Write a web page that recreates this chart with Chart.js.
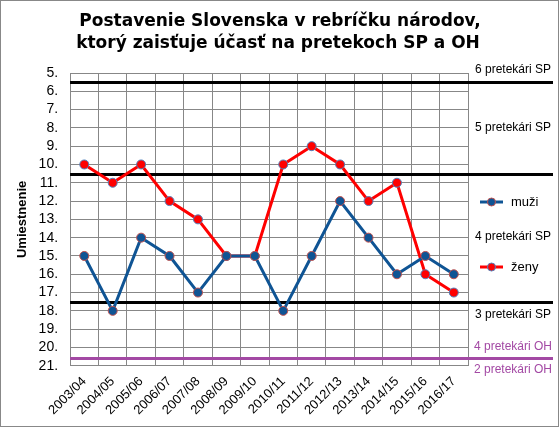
<!DOCTYPE html>
<html>
<head>
<meta charset="utf-8">
<script src="https://cdn.jsdelivr.net/npm/chart.js@4.4.1/dist/chart.umd.min.js"></script>
<style>
  html, body { margin: 0; padding: 0; background: #fff; }
  #wrap { width: 560px; height: 428px; position: relative; }
</style>
</head>
<body>
<div id="wrap"><canvas id="graf"></canvas></div>
<script>
// sezóny a umiestnenia
const sezony = ['2003/04', '2004/05', '2005/06', '2006/07', '2007/08', '2008/09', '2009/10',
                '2010/11', '2011/12', '2012/13', '2013/14', '2014/15', '2015/16', '2016/17'];
const muzi = [15, 18, 14, 15, 17, 15, 15, 18, 15, 12, 14, 16, 15, 16];
const zeny = [10, 11, 10, 12, 13, 15, 15, 10, 9, 10, 12, 11, 16, 17];

// hranice kvót (hodnoty na osi umiestnenia)
const hraniceSP = [5.5, 10.5, 17.5];
const hraniceOH = [20.6];

// popisky kvót: text, hodnota na osi, farba
const popisky = ['6 pretekári SP', '5 pretekári SP', '4 pretekári SP', '3 pretekári SP', '4 pretekári OH', '2 pretekári OH'];
const popiskyHodnoty = [4.8, 8.0, 13.96, 18.2, 19.97, 21.24];
const popiskyFarby = ['#000', '#000', '#000', '#000', '#a349a4', '#a349a4'];

const nadpis = ['Postavenie Slovenska v rebríčku národov,', 'ktorý zaisťuje účasť na pretekoch SP a OH'];

const MODRA = '#0f5494';
const CERVENA = '#ff0000';
const FIALOVA = '#a349a4';

const kresliDoplnky = {
  id: 'doplnky',
  beforeDatasetsDraw(chart) {
    const ctx = chart.ctx;
    const area = chart.chartArea;
    const y = chart.scales.y;
    ctx.save();
    ctx.lineWidth = 3;
    ctx.strokeStyle = '#000';
    hraniceSP.forEach(v => {
      const py = Math.round(y.getPixelForValue(v)) + 0.5;
      ctx.beginPath();
      ctx.moveTo(area.left, py);
      ctx.lineTo(553, py);
      ctx.stroke();
    });
    ctx.strokeStyle = FIALOVA;
    hraniceOH.forEach(v => {
      const py = Math.round(y.getPixelForValue(v)) + 0.5;
      ctx.beginPath();
      ctx.moveTo(area.left, py);
      ctx.lineTo(553, py);
      ctx.stroke();
    });
    ctx.restore();
  },
  afterDraw(chart) {
    const ctx = chart.ctx;
    const y = chart.scales.y;
    ctx.save();
    // rámček grafu
    ctx.strokeStyle = '#888';
    ctx.lineWidth = 1;
    ctx.strokeRect(0.5, 0.5, 558, 426);

    // nadpis
    ctx.fillStyle = '#000';
    ctx.textAlign = 'center';
    ctx.textBaseline = 'middle';
    ctx.font = 'bold 17px "DejaVu Sans"';
    ctx.fillText(nadpis[0], 280, 22);
    ctx.fillText(nadpis[1], 278, 44);

    // popisky kvót
    ctx.font = '12px "Liberation Sans"';
    popisky.forEach((t, i) => {
      ctx.fillStyle = popiskyFarby[i];
      ctx.fillText(t, 513, y.getPixelForValue(popiskyHodnoty[i]));
    });

    // legenda
    const legenda = [
      { ds: chart.data.datasets[0], py: 202 },
      { ds: chart.data.datasets[1], py: 267 }
    ];
    legenda.forEach(l => {
      ctx.strokeStyle = l.ds.borderColor;
      ctx.lineWidth = 3;
      ctx.beginPath();
      ctx.moveTo(480, l.py);
      ctx.lineTo(503, l.py);
      ctx.stroke();
      ctx.beginPath();
      ctx.arc(491.5, l.py, 4, 0, Math.PI * 2);
      ctx.fillStyle = l.ds.pointBackgroundColor;
      ctx.fill();
      ctx.lineWidth = 1;
      ctx.strokeStyle = l.ds.pointBorderColor;
      ctx.stroke();
      ctx.fillStyle = '#000';
      ctx.textAlign = 'left';
      ctx.font = '13px "Liberation Sans"';
      ctx.fillText(l.ds.label, 511, l.py);
    });
    ctx.restore();
  }
};

new Chart(document.getElementById('graf'), {
  type: 'line',
  data: {
    labels: sezony,
    datasets: [
      {
        label: 'muži',
        data: muzi,
        borderColor: MODRA,
        backgroundColor: MODRA,
        borderWidth: 3,
        pointRadius: 4.5,
        pointBackgroundColor: MODRA,
        pointBorderColor: '#c0504d',
        pointBorderWidth: 1,
        tension: 0
      },
      {
        label: 'ženy',
        data: zeny,
        borderColor: CERVENA,
        backgroundColor: CERVENA,
        borderWidth: 3,
        pointRadius: 4.5,
        pointBackgroundColor: CERVENA,
        pointBorderColor: '#4f81bd',
        pointBorderWidth: 1,
        tension: 0
      }
    ]
  },
  options: {
    responsive: true,
    maintainAspectRatio: false,
    animation: false,
    layout: { padding: { top: 73, right: 92, left: 6, bottom: 2 } },
    plugins: {
      legend: { display: false },
      title: { display: false },
      tooltip: { enabled: false }
    },
    scales: {
      x: {
        offset: true,
        grid: { offset: true, color: '#878787', drawTicks: false },
        border: { color: '#878787' },
        ticks: {
          color: '#000',
          font: { family: 'Liberation Sans', size: 13 },
          minRotation: 45,
          maxRotation: 45,
          autoSkip: false,
          padding: 8
        }
      },
      y: {
        reverse: true,
        min: 5,
        max: 21,
        grid: { color: '#878787', drawTicks: false },
        border: { color: '#878787' },
        ticks: {
          stepSize: 1,
          autoSkip: false,
          color: '#000',
          padding: 12,
          font: { family: 'Liberation Sans', size: 14 },
          callback: v => v + '.'
        },
        title: {
          display: true,
          text: 'Umiestnenie',
          color: '#000',
          font: { family: 'Liberation Sans', size: 13, weight: 'bold' },
          padding: { top: 9, bottom: -4 }
        }
      }
    }
  },
  plugins: [kresliDoplnky]
});
</script>
</body>
</html>
